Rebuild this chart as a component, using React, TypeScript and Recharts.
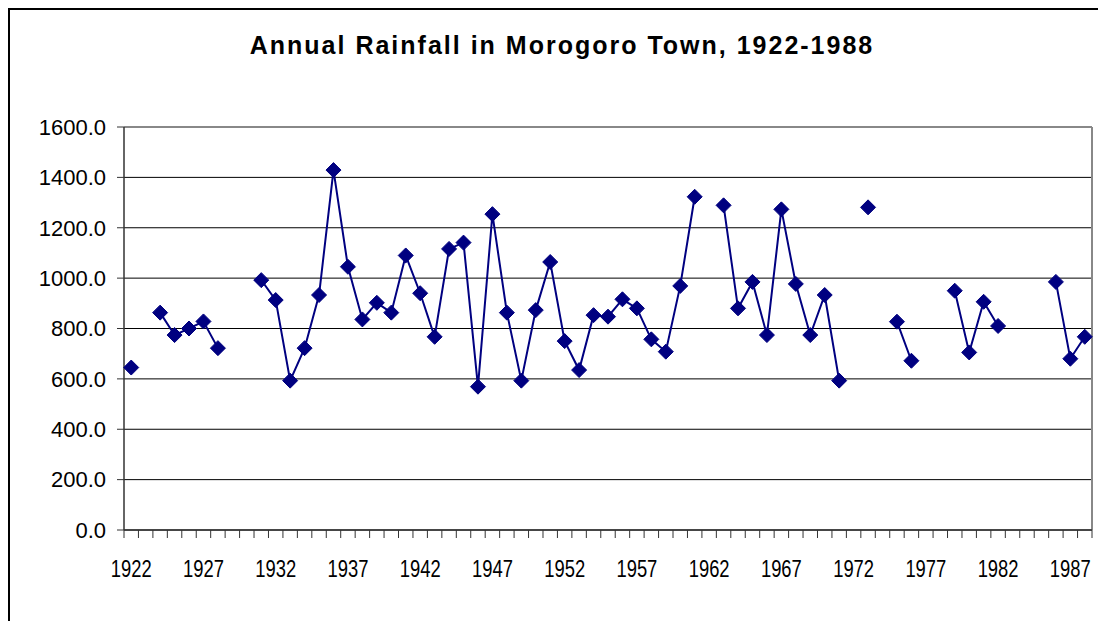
import { LineChart, Line, XAxis, YAxis, CartesianGrid, ReferenceLine } from 'recharts';

// categories (one per year) and annual rainfall, mm; null = no record
const years = [
  1922, 1923, 1924, 1925, 1926, 1927, 1928, 1929, 1930, 1931,
  1932, 1933, 1934, 1935, 1936, 1937, 1938, 1939, 1940, 1941,
  1942, 1943, 1944, 1945, 1946, 1947, 1948, 1949, 1950, 1951,
  1952, 1953, 1954, 1955, 1956, 1957, 1958, 1959, 1960, 1961,
  1962, 1963, 1964, 1965, 1966, 1967, 1968, 1969, 1970, 1971,
  1972, 1973, 1974, 1975, 1976, 1977, 1978, 1979, 1980, 1981,
  1982, 1983, 1984, 1985, 1986, 1987, 1988,
];

const rainfall: (number | null)[] = [
  645, null, 863, 774, 800, 828, 722, null, null, 992,
  913, 593, 722, 933, 1429, 1045, 836, 902, 863, 1090,
  940, 767, 1116, 1141, 569, 1254, 863, 593, 873, 1064,
  750, 635, 853, 847, 916, 880, 757, 708, 969, 1323,
  null, 1289, 880, 985, 774, 1273, 977, 774, 933, 593,
  null, 1281, null, 827, 672, null, null, 950, 705, 906,
  810, null, null, null, 985, 680, 767,
];

const labelYears = [1922, 1927, 1932, 1937, 1942, 1947, 1952, 1957, 1962, 1967, 1972, 1977, 1982, 1987];
const yTicks = [0, 200, 400, 600, 800, 1000, 1200, 1400, 1600];

const data = years.map((year, i) => ({ year, rain: rainfall[i] }));

// tick marks sit between categories, labels sit on the category centres
const boundaries = [...years.map((y) => y - 0.5), years[years.length - 1] + 0.5];
const xTicks = [...boundaries, ...labelYears];

const NAVY = '#000080';

function XTick(props: any) {
  const { x, y, payload } = props;
  const v = payload.value as number;
  if (!Number.isInteger(v)) {
    return <line x1={x} x2={x} y1={y} y2={y + 8} stroke="#333" strokeWidth={1} />;
  }
  // the original labels are set in a narrow face, so squeeze them sideways
  return (
    <g transform={`translate(${x},${y + 47}) scale(0.8,1)`}>
      <text
        x={0}
        y={0}
        textAnchor="middle"
        fill="#000"
        style={{ fontFamily: '"Liberation Sans", Arial, sans-serif', fontSize: 23 }}
      >
        {v}
      </text>
    </g>
  );
}

function Diamond(props: any) {
  const { cx, cy, index } = props;
  if (cx == null || cy == null) return <g key={`d-${index}`} />;
  const r = 7.5;
  return (
    <path
      key={`d-${index}`}
      d={`M${cx},${cy - r}L${cx + r},${cy}L${cx},${cy + r}L${cx - r},${cy}Z`}
      fill={NAVY}
      stroke={NAVY}
    />
  );
}

export default function App() {
  return (
    <div
      style={{
        position: 'fixed',
        left: 8,
        top: 8,
        width: 1090,
        height: 613,
        borderTop: '2px solid #000',
        borderLeft: '2px solid #000',
        boxSizing: 'border-box',
        background: '#fff',
        fontFamily: '"Liberation Sans", Arial, sans-serif',
      }}
    >
      <div
        style={{
          position: 'absolute',
          left: 0,
          top: 21,
          width: 1104,
          textAlign: 'center',
          fontWeight: 'bold',
          fontSize: 25,
          letterSpacing: 2,
        }}
      >
        Annual Rainfall in Morogoro Town, 1922-1988
      </div>
      <LineChart
        width={1088}
        height={611}
        data={data}
        margin={{ top: 117, right: 6, left: 0, bottom: 0 }}
      >
        <CartesianGrid stroke="#000" strokeWidth={1} vertical={false} />
        <XAxis
          dataKey="year"
          type="number"
          domain={[1921.5, 1988.5]}
          ticks={xTicks}
          interval={0}
          height={91}
          tickSize={0}
          tickMargin={0}
          tickLine={false}
          axisLine={{ stroke: '#333', strokeWidth: 1.5 }}
          tick={<XTick />}
        />
        <YAxis
          domain={[0, 1600]}
          ticks={yTicks}
          width={114}
          tickSize={7}
          tickMargin={11}
          tickFormatter={(v: number) => v.toFixed(1)}
          tick={{ fill: '#000', fontSize: 22, fontFamily: '"Liberation Sans", Arial, sans-serif' }}
          tickLine={{ stroke: '#333' }}
          axisLine={{ stroke: '#333', strokeWidth: 1.5 }}
        />
        <ReferenceLine y={1600} stroke="#888" strokeWidth={2} />
        <ReferenceLine x={1988.5} stroke="#888" strokeWidth={2} />
        <Line
          dataKey="rain"
          stroke={NAVY}
          strokeWidth={2}
          dot={Diamond}
          activeDot={false}
          connectNulls={false}
          isAnimationActive={false}
        />
      </LineChart>
    </div>
  );
}
